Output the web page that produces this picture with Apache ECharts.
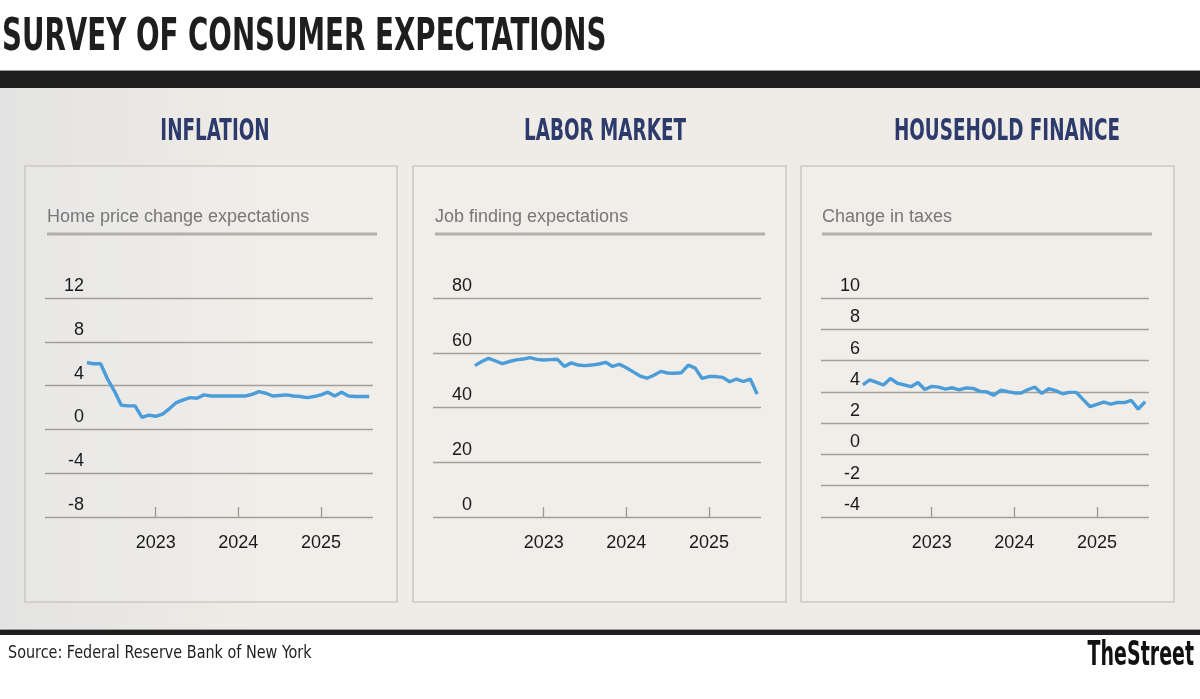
<!DOCTYPE html>
<html><head><meta charset="utf-8">
<script src="https://cdn.jsdelivr.net/npm/echarts@6/dist/echarts.min.js"></script>
<style>html,body{margin:0;padding:0;background:#fff}#c{width:1200px;height:699px}</style>
</head><body><div id="c"></div>
<script>
// ---- data ----
const months = ['2022-03','2022-04','2022-05','2022-06','2022-07','2022-08','2022-09','2022-10','2022-11','2022-12',
  '2023-01','2023-02','2023-03','2023-04','2023-05','2023-06','2023-07','2023-08','2023-09','2023-10','2023-11','2023-12',
  '2024-01','2024-02','2024-03','2024-04','2024-05','2024-06','2024-07','2024-08','2024-09','2024-10','2024-11','2024-12',
  '2025-01','2025-02','2025-03','2025-04','2025-05','2025-06','2025-07','2025-08'];
const homePrice = [6.1,6.0,6.0,4.6,3.5,2.2,2.15,2.15,1.1,1.3,
  1.2,1.4,1.9,2.45,2.7,2.9,2.85,3.15,3.05,3.05,3.05,3.05,
  3.05,3.05,3.2,3.45,3.3,3.05,3.1,3.15,3.05,3.0,2.9,3.0,
  3.15,3.4,3.05,3.4,3.05,3.0,3.0,3.0];
const jobFinding = [55.3,56.8,58.0,57.0,56.0,56.8,57.4,57.7,58.2,57.6,
  57.35,57.5,57.6,55.0,56.3,55.5,55.3,55.5,55.9,56.5,55.0,55.8,
  54.5,53.0,51.5,50.7,51.8,53.2,52.6,52.5,52.7,55.5,54.4,50.6,
  51.3,51.3,51.0,49.4,50.4,49.5,50.4,44.9];
const taxes = [4.44,4.76,4.6,4.44,4.86,4.55,4.45,4.33,4.6,4.15,
  4.35,4.3,4.17,4.26,4.13,4.25,4.22,4.03,4.0,3.78,4.1,4.02,
  3.93,3.93,4.15,4.3,3.9,4.2,4.08,3.88,3.97,3.97,3.5,3.05,
  3.2,3.35,3.22,3.32,3.31,3.45,2.9,3.38];
const yearTicks = [2023, 2024, 2025];
const panelTitles = ['INFLATION', 'LABOR MARKET', 'HOUSEHOLD FINANCE'];
const panelSubtitles = ['Home price change expectations', 'Job finding expectations', 'Change in taxes'];
const yRanges = [{min:-8,max:12,interval:4},{min:0,max:80,interval:20},{min:-4,max:10,interval:2}];
const mainTitle = 'SURVEY OF CONSUMER EXPECTATIONS';
const sourceText = 'Source: Federal Reserve Bank of New York';
const brandText = 'TheStreet';

// ---- layout ----
const gridLefts = [45, 433, 821];
const gridWidth = 328;
const gridTop = 298, gridHeight = 219;
const boxes = [[25,166,372,436],[413,166,373,436],[801,166,373,436]];
const headCenters = [215, 605, 1007];
const subX = [47, 435, 822];
const narrow = '"Liberation Sans Narrow","Arial Narrow","DejaVu Sans Condensed",sans-serif';
const sans = '"Liberation Sans",Arial,Helvetica,sans-serif';

function toDec(m){ const [y,mo] = m.split('-').map(Number); return y + (mo-1)/12; }
const seriesVals = [homePrice, jobFinding, taxes];

const chart = echarts.init(document.getElementById('c'), null, {renderer:'canvas'});

const grids = gridLefts.map(l => ({left:l, top:gridTop, width:gridWidth, height:gridHeight}));
const xAxes = gridLefts.map((l,i) => ({
  type:'value', gridIndex:i, min:2021.66, max:2025.63, position:'bottom',
  axisLine:{show:false, onZero:false}, splitLine:{show:false},
  axisTick:{show:true, inside:true, length:10, customValues:yearTicks, lineStyle:{color:'#9c9894', width:1.3}},
  axisLabel:{show:true, customValues:yearTicks, formatter:v=>String(Math.round(v)), margin:17,
    fontSize:18, color:'#1a1a1a', fontFamily:sans}
}));
const yAxes = yRanges.map((r,i) => ({
  type:'value', gridIndex:i, min:r.min, max:r.max, interval:r.interval,
  axisLine:{show:false}, axisTick:{show:false},
  splitLine:{show:true, lineStyle:{color:'#a29e9a', width:1.3}},
  axisLabel:{margin:-39, align:'right', verticalAlign:'bottom', padding:[0,0,3,0],
    fontSize:18, color:'#1a1a1a', fontFamily:sans}
}));
const series = seriesVals.map((vals,i) => ({
  type:'line', xAxisIndex:i, yAxisIndex:i, showSymbol:false, symbol:'none', silent:true, z:5,
  lineStyle:{color:'#4a9dd8', width:3.4}, data: months.map((m,j)=>[toDec(m), vals[j]])
}));

const graphics = [
  {type:'rect', z:-10, shape:{x:0,y:88,width:1200,height:541}, style:{fill:'#efebe6'}},
  {type:'rect', z:-9, shape:{x:0,y:88,width:260,height:541}, style:{fill:new echarts.graphic.LinearGradient(0,0,1,0,[{offset:0,color:'rgba(210,216,222,0.4)'},{offset:1,color:'rgba(210,216,222,0)'}])}},
  {type:'rect', z:-8, shape:{x:0,y:70,width:1200,height:1}, style:{fill:'#9a9a9a'}},
  {type:'rect', z:-8, shape:{x:0,y:71,width:1200,height:17}, style:{fill:'#1e1e1e'}},
  {type:'rect', z:-8, shape:{x:0,y:629,width:1200,height:1}, style:{fill:'#9a9a9a'}},
  {type:'rect', z:-8, shape:{x:0,y:630,width:1200,height:5}, style:{fill:'#1e1e1e'}},
  {type:'text', x:2, y:39, scaleX:0.70, style:{text:mainTitle, x:0, y:0, font:'bold 44px '+narrow, fill:'#1e1e1e', textAlign:'left', textVerticalAlign:'middle'}},
  {type:'text', x:8, y:653, scaleY:1.1, style:{text:sourceText, x:0, y:0, font:'16px '+narrow, fill:'#1e1e1e', textAlign:'left', textVerticalAlign:'middle'}},
  {type:'text', x:1194, y:656, scaleX:0.64, style:{text:brandText, x:0, y:0, font:'bold 33px '+narrow, fill:'#111', textAlign:'right', textVerticalAlign:'middle'}}
];
boxes.forEach((b,i) => {
  graphics.push({type:'rect', z:-7, shape:{x:b[0],y:b[1],width:b[2],height:b[3]}, style:{fill:'rgba(255,255,255,0.12)', stroke:'#cdc8c3', lineWidth:1.5}});
  graphics.push({type:'text', x:headCenters[i], y:132, scaleX:0.68, style:{text:panelTitles[i], x:0, y:0, font:'bold 30px '+narrow, fill:'#2c3a6c', textAlign:'center', textVerticalAlign:'middle'}});
  graphics.push({type:'text', x:subX[i], y:217, style:{text:panelSubtitles[i], x:0, y:0, font:'18px '+sans, fill:'#777', textAlign:'left', textVerticalAlign:'middle'}});
  graphics.push({type:'rect', z:-6, shape:{x:subX[i], y:232.5, width:330, height:3}, style:{fill:'#b3afab'}});
});

chart.setOption({
  animation:false,
  backgroundColor:'#ffffff',
  grid:grids, xAxis:xAxes, yAxis:yAxes, series:series,
  graphic:{elements:graphics}
});
</script></body></html>
